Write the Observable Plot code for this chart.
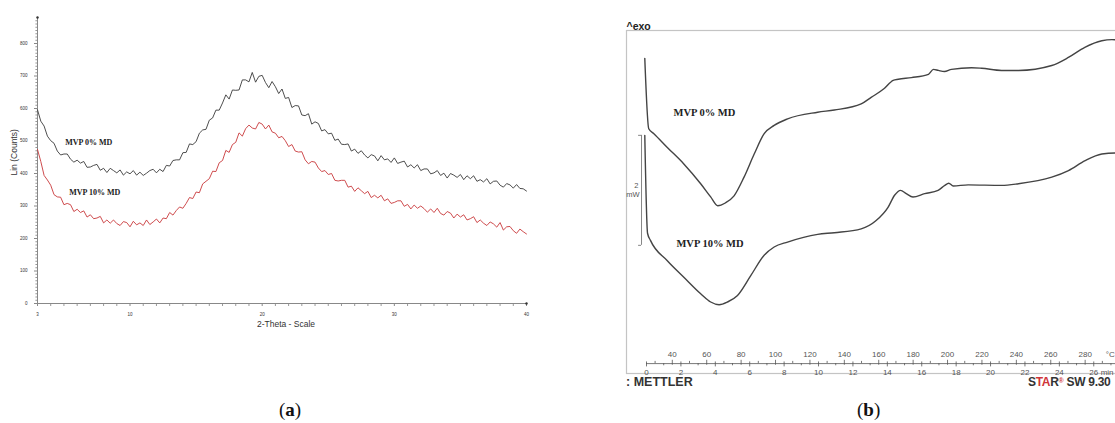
<!DOCTYPE html>
<html>
<head>
<meta charset="utf-8">
<script src="https://cdn.jsdelivr.net/npm/d3@7"></script>
<script src="https://cdn.jsdelivr.net/npm/@observablehq/plot@0.6"></script>
<style>
  html, body { margin: 0; padding: 0; background: #fff; }
  body { width: 1115px; height: 423px; overflow: hidden; position: relative; }
  .pane { position: absolute; top: 0; width: 560px; }
  .pane svg { max-width: none !important; display: block; }
  .cap { position: absolute; font-family: "Liberation Serif", "DejaVu Serif", serif; font-size: 19px; color: #111; }
  .foot { position: absolute; font-family: "Liberation Sans", Arial, sans-serif; font-weight: bold; font-size: 12px; color: #333; white-space: nowrap; }
</style>
</head>
<body>
<div id="xrd" class="pane" style="left:0px"></div>
<div id="dsc" class="pane" style="left:600px"></div>
<div class="foot" style="left:626px;top:375px;font-size:12.5px">: METTLER</div>
<div class="foot" style="left:1028px;top:375px;letter-spacing:-0.3px">S<span style="color:#d0353a">TA</span>R<span style="color:#d0353a;font-size:7px;vertical-align:3px">®</span> SW 9.30</div>
<div class="cap" style="left:279px;top:399px">(<b>a</b>)</div>
<div class="cap" style="left:857px;top:399px">(<b>b</b>)</div>
<script>
// ---------- (a) XRD pattern ----------
const theta = [3,3.25,3.5,3.75,4,4.25,4.5,4.75,5,5.25,5.5,5.75,6,6.25,6.5,6.75,7,7.25,7.5,7.75,8,8.25,8.5,8.75,9,9.25,9.5,9.75,10,10.25,10.5,10.75,11,11.25,11.5,11.75,12,12.25,12.5,12.75,13,13.25,13.5,13.75,14,14.25,14.5,14.75,15,15.25,15.5,15.75,16,16.25,16.5,16.75,17,17.25,17.5,17.75,18,18.25,18.5,18.75,19,19.25,19.5,19.75,20,20.25,20.5,20.75,21,21.25,21.5,21.75,22,22.25,22.5,22.75,23,23.25,23.5,23.75,24,24.25,24.5,24.75,25,25.25,25.5,25.75,26,26.25,26.5,26.75,27,27.25,27.5,27.75,28,28.25,28.5,28.75,29,29.25,29.5,29.75,30,30.25,30.5,30.75,31,31.25,31.5,31.75,32,32.25,32.5,32.75,33,33.25,33.5,33.75,34,34.25,34.5,34.75,35,35.25,35.5,35.75,36,36.25,36.5,36.75,37,37.25,37.5,37.75,38,38.25,38.5,38.75,39,39.25,39.5,39.75,40];
const countsMD0 = [
  596,561,546,515, 501,493,469,457, 460,460,444,435, 441,432,437,419,
  420,425,428,410, 416,403,416,409, 402,411,395,405, 399,409,395,404,
  394,401,409,413, 402,413,406,425, 423,440,442,442, 464,465,491,489,
  498,524,534,536, 564,571,595,595, 617,642,629,657, 656,657,688,688,
  682,711,681,699, 702,680,664,683, 667,646,660,631, 634,603,609,608,
  580,578,584,552, 559,554,531,535, 522,524,502,506, 490,489,491,469,
  475,462,470,457, 448,458,454,439, 455,442,445,434, 448,431,435,438,
  420,427,417,427, 409,414,414,399, 402,409,394,401, 386,400,395,388,
  397,381,393,384, 393,376,381,374, 384,368,376,377, 364,358,369,365,
  355,366,354,353, 346];
const countsMD10 = [
  474,437,394,380, 364,335,328,327, 304,308,304,283, 290,280,285,266,
  273,261,263,268, 248,257,247,257, 246,240,252,249, 236,253,242,248,
  240,257,243,251, 260,248,263,261, 280,272,286,297, 293,308,326,323,
  343,341,368,376, 384,407,406,433, 440,471,465,489, 496,525,515,538,
  549,540,537,557, 552,537,549,528, 524,510,514,501, 483,489,469,466,
  467,442,430,437, 435,417,406,409, 397,400,379,377, 379,379,358,361,
  345,356,347,338, 345,326,333,325, 333,316,322,308, 311,316,316,299,
  305,291,303,293, 300,292,281,291, 280,293,277,272, 283,278,263,275,
  266,273,257,261, 267,249,257,247, 240,251,245,235, 249,226,236,237,
  224,216,229,221, 214];
const xrdXTickLabels = [3, 10, 20, 30, 40];
const xrdXMinor = [4,5,6,7,8,9,11,12,13,14,15,16,17,18,19,21,22,23,24,25,26,27,28,29,31,32,33,34,35,36,37,38,39];
const xrdYTickLabels = [0, 100, 200, 300, 400, 500, 600, 700, 800];
const xrdYMinor = [10,20,30,40,50,60,70,80,90,110,120,130,140,150,160,170,180,190,210,220,230,240,250,260,270,280,290,310,320,330,340,350,360,370,380,390,410,420,430,440,450,460,470,480,490,510,520,530,540,550,560,570,580,590,610,620,630,640,650,660,670,680,690,710,720,730,740,750,760,770,780,790,810,820,830,840,850,860,870];
const xrdLabels = [
  {name: "MVP 0% MD", t: 5.1, c: 496},
  {name: "MVP 10% MD", t: 5.4, c: 342}
];

const xrd0 = theta.map((t, i) => ({t, c: countsMD0[i]}));
const xrd10 = theta.map((t, i) => ({t, c: countsMD10[i]}));

const plotA = Plot.plot({
  width: 560, height: 340,
  marginLeft: 37, marginRight: 34, marginTop: 17, marginBottom: 37,
  x: {domain: [3, 40]},
  y: {domain: [0, 880]},
  style: {fontFamily: "Liberation Sans, Arial, sans-serif", fontSize: "5px", color: "#333", background: "transparent"},
  marks: [
    Plot.axisY(xrdYMinor, {tickSize: 1.6, text: null, label: null, stroke: "#999"}),
    Plot.axisY(xrdYTickLabels, {tickSize: 3, tickPadding: 7, label: null, fontSize: 4.5, stroke: "#888"}),
    Plot.axisX(xrdXMinor, {tickSize: 3, text: null, label: null, stroke: "#999"}),
    Plot.axisX(xrdXTickLabels, {tickSize: 3, tickPadding: 6, label: null, fontSize: 4.5, stroke: "#888"}),
    Plot.ruleX([3], {y1: 0, y2: 880, stroke: "#888", strokeWidth: 1}),
    Plot.ruleY([0], {x1: 3, x2: 40, stroke: "#888", strokeWidth: 1}),
    Plot.dot([{t: 3, c: 880}, {t: 40, c: 0}], {x: "t", y: "c", r: 1.2, fill: "#333", stroke: null}),
    Plot.line(xrd0, {x: "t", y: "c", stroke: "#3a3a3a", strokeWidth: 0.9}),
    Plot.line(xrd10, {x: "t", y: "c", stroke: "#c8383a", strokeWidth: 0.9}),
    Plot.text(xrdLabels, {x: "t", y: "c", text: "name", textAnchor: "start", fontFamily: "Liberation Serif, DejaVu Serif, serif", fontWeight: "bold", fontSize: 8, fill: "#222"}),
    Plot.text(["Lin (Counts)"], {frameAnchor: "left", rotate: -90, dx: -23, dy: 15, fontSize: 8.5, fill: "#333"}),
    Plot.text(["2-Theta - Scale"], {frameAnchor: "bottom", dx: 4, dy: 23, fontSize: 8.5, fill: "#333"})
  ]
});
document.getElementById("xrd").append(plotA);

// ---------- (b) DSC thermogram ----------
const startT = 25;          // °C at 0 min
const heatingRate = 10;     // °C per min
const dscTemp0 = [24.0,26.3,29.3,37.1,46.7,56.5,62.3,66.4,70.8,75.9,81.7,87.6,93.4,99.2,107.0,124.5,134.2,149.8,155.6,163.2,168.4,171.4,179,188.9,191.8,194.7,198.2,202.3,213.9,219.8,231.4,241.3,260.6,270.5,279.8,289.7,295.6,301.4];
const dscHF0 = [5.73,4.45,4.36,4.11,3.81,3.45,3.21,3.05,3.10,3.23,3.57,3.99,4.36,4.51,4.63,4.75,4.79,4.90,5.02,5.18,5.33,5.35,5.38,5.44,5.53,5.51,5.49,5.53,5.56,5.55,5.51,5.51,5.60,5.75,5.93,6.05,6.07,6.05];
const dscTemp10 = [24.0,25.6,27.3,37.1,46.7,56.5,62.3,67.2,72.1,77.9,85.6,93.4,99.2,107.0,124.5,134.2,149.8,158.5,165.4,169.2,172.7,176.0,179.9,186.7,194.5,198.4,200.7,203.3,212.0,231.4,241.2,260.6,270.3,280.0,289.7,297.5,301.4];
const dscHF10 = [4.33,2.55,2.42,2.05,1.75,1.45,1.30,1.25,1.30,1.42,1.78,2.15,2.30,2.39,2.53,2.56,2.63,2.78,3.02,3.24,3.33,3.27,3.21,3.27,3.33,3.42,3.46,3.41,3.43,3.42,3.45,3.57,3.69,3.87,3.99,4.01,4.00];
const tempTickLabels = [40,60,80,100,120,140,160,180,200,220,240,260,280];
const tempMinor = [30,50,70,90,110,130,150,170,190,210,230,250,270,290,300];
const timeTickLabels = [0,2,4,6,8,10,12,14,16,18,20,22,24,26];
const timeMinor = [1,3,5,7,9,11,13,15,17,19,21,23,25,27];
const dscLabels = [
  {name: "MVP 0% MD", T: 40.7, hf: 4.75},
  {name: "MVP 10% MD", T: 42.4, hf: 2.37}
];
const scaleBar = {T: 22.1, bottom: 2.33, size: 2, unit: "mW"};
const axisHF = 0.18;

const dsc0 = dscTemp0.map((T, i) => ({T, hf: dscHF0[i]}));
const dsc10 = dscTemp10.map((T, i) => ({T, hf: dscHF10[i]}));
const timeToT = m => startT + heatingRate * m;

const scaleFont = {fontFamily: "Liberation Sans, Arial, sans-serif", fontSize: 8, fill: "#555"};

const plotB = Plot.plot({
  width: 560, height: 395,
  marginLeft: 26, marginRight: 0, marginTop: 30, marginBottom: 22,
  x: {domain: [13.37, 323.8], axis: null},
  y: {domain: [0, 6.236], axis: null},
  style: {fontFamily: "Liberation Sans, Arial, sans-serif", fontSize: "8px", color: "#444", background: "transparent", overflow: "visible"},
  marks: [
    Plot.frame({stroke: "#c4c4c4", strokeWidth: 1.2}),
    Plot.ruleY([axisHF], {x1: startT, x2: 330, stroke: "#555", strokeWidth: 0.8}),
    Plot.ruleX(tempMinor, {x: d => d, y1: axisHF, y2: axisHF + 0.04, stroke: "#555", strokeWidth: 0.8}),
    Plot.ruleX(tempTickLabels, {x: d => d, y1: axisHF - 0.03, y2: axisHF + 0.06, stroke: "#555", strokeWidth: 0.8}),
    Plot.ruleX(timeMinor, {x: d => timeToT(d), y1: axisHF, y2: axisHF - 0.04, stroke: "#555", strokeWidth: 0.8}),
    Plot.ruleX(timeTickLabels, {x: d => timeToT(d), y1: axisHF + 0.03, y2: axisHF - 0.06, stroke: "#555", strokeWidth: 0.8}),
    Plot.text(tempTickLabels, {x: d => d, y: axisHF, dy: -9, text: d => String(d), ...scaleFont}),
    Plot.text(["°C"], {x: 292, y: axisHF, dy: -9, text: d => d, textAnchor: "start", ...scaleFont}),
    Plot.text(timeTickLabels, {x: d => timeToT(d), y: axisHF, dy: 9, text: d => String(d), ...scaleFont}),
    Plot.text(["min"], {x: 289, y: axisHF, dy: 9, text: d => d, textAnchor: "start", ...scaleFont}),
    Plot.ruleX([scaleBar], {x: "T", y1: "bottom", y2: d => d.bottom + d.size, stroke: "#666", strokeWidth: 0.8}),
    Plot.ruleY([scaleBar], {y: "bottom", x1: d => d.T - 1.7, x2: "T", stroke: "#666", strokeWidth: 0.8}),
    Plot.ruleY([scaleBar], {y: d => d.bottom + d.size, x1: d => d.T - 1.7, x2: "T", stroke: "#666", strokeWidth: 0.8}),
    Plot.text([scaleBar], {x: "T", y: d => d.bottom + d.size / 2, text: d => String(d.size), textAnchor: "end", dx: -3, dy: -5, ...scaleFont, fontSize: 7.5}),
    Plot.text([scaleBar], {x: "T", y: d => d.bottom + d.size / 2, text: "unit", textAnchor: "end", dx: -2, dy: 4, ...scaleFont, fontSize: 7.5}),
    Plot.line(dsc0, {x: "T", y: "hf", stroke: "#444", strokeWidth: 1.4, curve: "monotone-x"}),
    Plot.line(dsc10, {x: "T", y: "hf", stroke: "#444", strokeWidth: 1.4, curve: "monotone-x"}),
    Plot.text(dscLabels, {x: "T", y: "hf", text: "name", textAnchor: "start", fontFamily: "Liberation Serif, DejaVu Serif, serif", fontWeight: "bold", fontSize: 10.5, fill: "#222"}),
    Plot.text(["^exo"], {frameAnchor: "top-left", dy: -8, textAnchor: "start", fontSize: 10.5, fill: "#222", fontWeight: "bold"})
  ]
});
document.getElementById("dsc").append(plotB);
</script>
</body>
</html>
